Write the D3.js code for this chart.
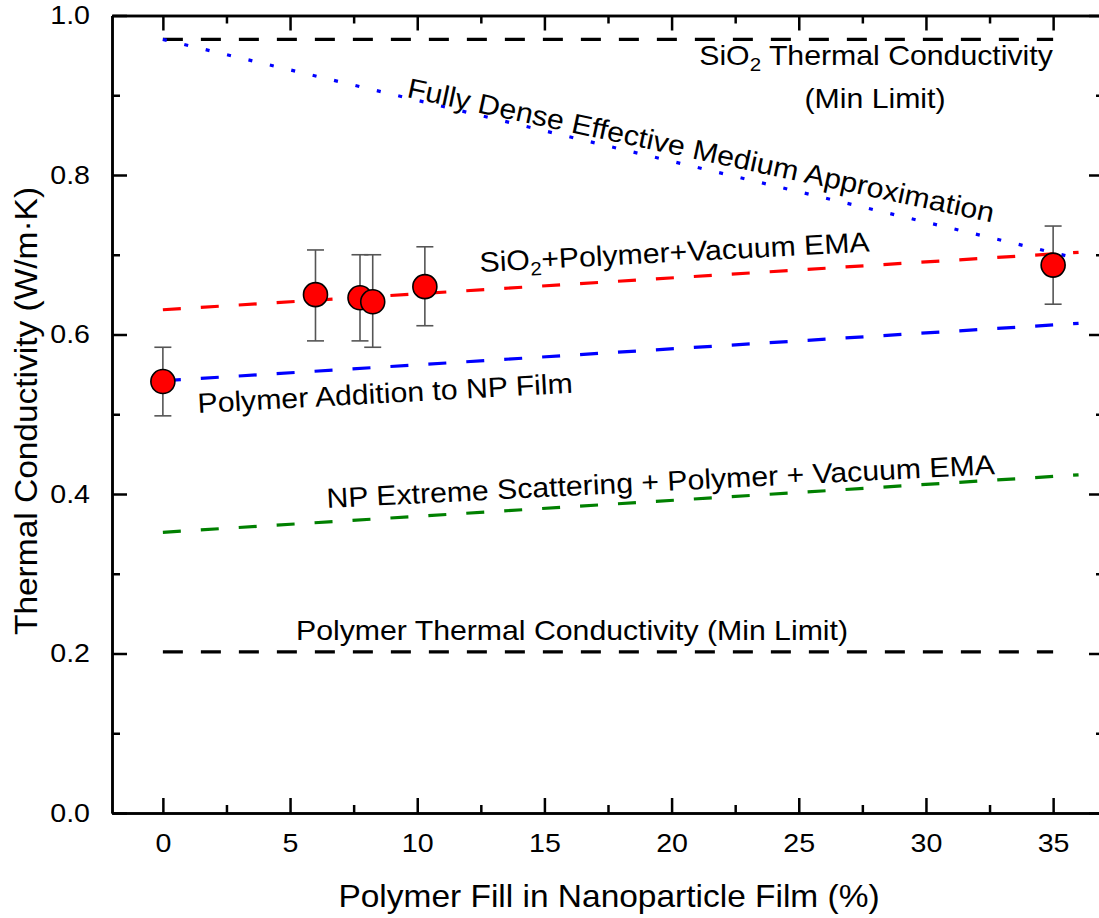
<!DOCTYPE html>
<html>
<head>
<meta charset="utf-8">
<script src="https://cdn.jsdelivr.net/npm/d3@7"></script>
<style>
  body { margin: 0; background: #fff; }
  text { font-family: "Liberation Sans", Arial, sans-serif; fill: #000; }
</style>
</head>
<body>
<div class="canvas"></div>
<script>
// measured points
const fill = [0, 6.0, 7.75, 8.25, 10.3, 35];
const kappa = [0.541, 0.650, 0.646, 0.641, 0.660, 0.687];
const errTop = [0.584, 0.706, 0.700, 0.700, 0.710, 0.736];
const errBottom = [0.498, 0.592, 0.592, 0.584, 0.611, 0.638];

// model lines (fill %, conductivity)
const sio2LimitX = [0, 35], sio2LimitY = [0.970, 0.970];
const polyLimitX = [0, 35], polyLimitY = [0.202, 0.202];
const denseX = [0, 36], denseY = [0.970, 0.695];
const sio2PolyVacX = [0, 36], sio2PolyVacY = [0.631, 0.703];
const polyAddX = [0, 36], polyAddY = [0.542, 0.614];
const npExtremeX = [0, 36], npExtremeY = [0.352, 0.424];

const xMajor = [0, 5, 10, 15, 20, 25, 30, 35];
const xMinor = [-2.5, 2.5, 7.5, 12.5, 17.5, 22.5, 27.5, 32.5];
const yMajor = [0, 0.2, 0.4, 0.6, 0.8, 1.0];
const yMinor = [0.1, 0.3, 0.5, 0.7, 0.9];

const W = 1099, H = 918;
const stretch = 1.08;

const svg = d3.select('.canvas')
  .append('svg')
  .attr('width', W)
  .attr('height', H);

const x = d3.scaleLinear().domain([-2, 37]).range([112, 1104]);
const y = d3.scaleLinear().domain([0, 1]).range([813, 15.5]);

// axes, ticks pointing inward
const axisG = svg.append('g');
const styleAxis = (g) => {
  g.select('.domain').attr('stroke', '#000').attr('stroke-width', 2.5);
  g.selectAll('.tick line').attr('stroke', '#000').attr('stroke-width', 2.5);
};

axisG.append('g')
  .attr('transform', `translate(0,${y(0)})`)
  .call(d3.axisBottom(x).tickValues(xMajor).tickSizeInner(-15).tickSizeOuter(0).tickPadding(21))
  .call(styleAxis)
  .call(g => g.selectAll('text').attr('font-size', 26).attr('font-family', null)
    .attr('transform', `scale(${stretch + 0.02},1)`));

axisG.append('g')
  .attr('transform', `translate(0,${y(0)})`)
  .call(d3.axisBottom(x).tickValues(xMinor.filter(v => v > -2)).tickSizeInner(-8).tickSizeOuter(0).tickFormat(''))
  .call(styleAxis);

axisG.append('g')
  .attr('transform', `translate(0,${y(1)})`)
  .call(d3.axisTop(x).tickValues(xMajor).tickSizeInner(-15).tickSizeOuter(0).tickFormat(''))
  .call(styleAxis);

axisG.append('g')
  .attr('transform', `translate(0,${y(1)})`)
  .call(d3.axisTop(x).tickValues(xMinor.filter(v => v > -2)).tickSizeInner(-8).tickSizeOuter(0).tickFormat(''))
  .call(styleAxis);

axisG.append('g')
  .attr('transform', `translate(${x(-2)},0)`)
  .call(d3.axisLeft(y).tickValues(yMajor).tickSizeInner(-15).tickSizeOuter(0).tickPadding(20).tickFormat(d3.format('.1f')))
  .call(styleAxis)
  .call(g => g.selectAll('text').attr('font-size', 26).attr('font-family', null)
    .attr('transform', `scale(${stretch + 0.02},1)`));

axisG.append('g')
  .attr('transform', `translate(${x(-2)},0)`)
  .call(d3.axisLeft(y).tickValues(yMinor).tickSizeInner(-8).tickSizeOuter(0).tickFormat(''))
  .call(styleAxis);

axisG.append('g')
  .attr('transform', `translate(${x(37)},0)`)
  .call(d3.axisRight(y).tickValues(yMajor).tickSizeInner(-15).tickSizeOuter(0).tickFormat(''))
  .call(styleAxis);

axisG.append('g')
  .attr('transform', `translate(${x(37)},0)`)
  .call(d3.axisRight(y).tickValues(yMinor).tickSizeInner(-8).tickSizeOuter(0).tickFormat(''))
  .call(styleAxis);

// model lines
const line = d3.line().x(d => x(d[0])).y(d => y(d[1]));
const models = [
  { xs: sio2LimitX, ys: sio2LimitY, colour: '#000', dash: '20 18' },
  { xs: polyLimitX, ys: polyLimitY, colour: '#000', dash: '20 18' },
  { xs: denseX, ys: denseY, colour: '#0000ff', dash: '4 18' },
  { xs: sio2PolyVacX, ys: sio2PolyVacY, colour: '#ff0000', dash: '18 20' },
  { xs: polyAddX, ys: polyAddY, colour: '#0000ff', dash: '18 20' },
  { xs: npExtremeX, ys: npExtremeY, colour: '#008000', dash: '18 20' }
];

svg.append('g').selectAll('path')
  .data(models)
  .enter()
  .append('path')
    .attr('d', m => line(m.xs.map((v, i) => [v, m.ys[i]])))
    .attr('fill', 'none')
    .attr('stroke', m => m.colour)
    .attr('stroke-width', 3.2)
    .attr('stroke-dasharray', m => m.dash);

// data points with error bars
const pts = fill.map((f, i) => ({ f, k: kappa[i], hi: errTop[i], lo: errBottom[i] }));
const errG = svg.append('g').attr('stroke', '#555').attr('stroke-width', 1.6);
pts.forEach(p => {
  errG.append('line').attr('x1', x(p.f)).attr('x2', x(p.f)).attr('y1', y(p.hi)).attr('y2', y(p.lo));
  errG.append('line').attr('x1', x(p.f) - 8.5).attr('x2', x(p.f) + 8.5).attr('y1', y(p.hi)).attr('y2', y(p.hi));
  errG.append('line').attr('x1', x(p.f) - 8.5).attr('x2', x(p.f) + 8.5).attr('y1', y(p.lo)).attr('y2', y(p.lo));
});

svg.append('g').selectAll('circle')
  .data(pts)
  .enter()
  .append('circle')
    .attr('cx', d => x(d.f))
    .attr('cy', d => y(d.k))
    .attr('r', 12)
    .attr('fill', '#ff0000')
    .attr('stroke', '#000')
    .attr('stroke-width', 1.6);

// text helper: parts are [string, isSubscript]
const label = (px, py, angle, size, anchor, parts) => {
  const t = svg.append('g')
    .attr('transform', `translate(${px},${py}) rotate(${angle}) scale(${stretch},1)`)
    .append('text')
    .attr('font-size', size)
    .attr('text-anchor', anchor);
  let shifted = false;
  parts.forEach(([s, sub]) => {
    const ts = t.append('tspan').text(s);
    if (sub && !shifted) { ts.attr('dy', size * 0.22).attr('font-size', size * 0.68); shifted = true; }
    else if (!sub && shifted) { ts.attr('dy', -size * 0.22); shifted = false; }
  });
};

label(876, 65, 0, 28, 'middle', [['SiO'], ['2', true], [' Thermal Conductivity']]);
label(875, 108, 0, 28, 'middle', [['(Min Limit)']]);
label(406, 97, 12.1, 28, 'start', [['Fully Dense Effective Medium Approximation']]);
label(480, 272, -3, 28, 'start', [['SiO'], ['2', true], ['+Polymer+Vacuum EMA']]);
label(198, 413, -3.1, 28, 'start', [['Polymer Addition to NP Film']]);
label(327, 508, -2.9, 28, 'start', [['NP Extreme Scattering + Polymer + Vacuum EMA']]);
label(572, 640, 0, 28, 'middle', [['Polymer Thermal Conductivity (Min Limit)']]);

// axis titles
label(609, 907, 0, 31, 'middle', [['Polymer Fill in Nanoparticle Film (%)']]);
label(37, 411, -90, 31, 'middle', [['Thermal Conductivity (W/m·K)']]);
</script>
</body>
</html>
